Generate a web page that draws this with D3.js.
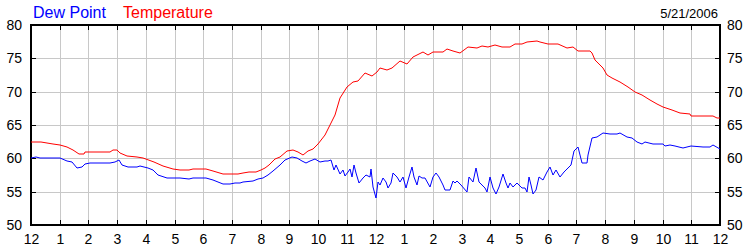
<!DOCTYPE html>
<html>
<head>
<meta charset="utf-8">
<script src="https://cdn.jsdelivr.net/npm/d3@7"></script>
<style>
  body { margin: 0; background: #fff; }
  svg { display: block; }
  text { font-family: "Liberation Sans", Arial, sans-serif; }
</style>
</head>
<body>
<div id="chart"></div>
<script>
// minutes after midnight, degrees F
const temperature = [
  [0, 62.4], [20, 62.4], [45, 62.2], [60, 62.0], [75, 61.7], [88, 61.25], [100, 60.7], [110, 60.65],
  [113, 60.9], [165, 60.9], [172, 61.2], [180, 61.2], [186, 60.8], [201, 60.35], [222, 60.25], [234, 60.1],
  [258, 59.5], [276, 58.9], [297, 58.35], [312, 58.3], [330, 58.25], [339, 58.4], [366, 58.4], [381, 58.15],
  [402, 57.65], [423, 57.65], [432, 57.7], [444, 57.85], [456, 58.0], [471, 58.0], [480, 58.25], [489, 58.5],
  [498, 59.0], [510, 59.85], [520, 60.25], [534, 61.15], [548, 61.25], [558, 60.9], [568, 60.5], [579, 61.1],
  [589, 61.35], [600, 62.1], [614, 63.5], [628, 65.25], [636, 66.5], [646, 69.0], [660, 70.65], [674, 71.5],
  [684, 71.65], [698, 72.75], [712, 72.35], [723, 73.0], [730, 73.5], [744, 73.25], [754, 73.6], [771, 74.6],
  [786, 74.1], [798, 75.25], [819, 76.0], [830, 75.5], [840, 75.9], [861, 76.0], [870, 76.4], [882, 76.1],
  [896, 75.75], [913, 76.65], [932, 76.5], [942, 76.85], [955, 76.65], [970, 76.95], [984, 76.65], [1001, 76.65],
  [1012, 77.1], [1026, 77.1], [1036, 77.4], [1057, 77.6], [1064, 77.5], [1080, 77.1], [1101, 77.1], [1120, 76.5],
  [1133, 76.65], [1143, 76.1], [1168, 76.1], [1172, 75.85], [1179, 74.75], [1189, 74.0], [1195, 73.5], [1204, 72.5],
  [1214, 72.0], [1231, 71.5], [1248, 70.75], [1262, 70.0], [1277, 69.5], [1294, 68.75], [1308, 68.15], [1320, 67.75],
  [1340, 67.25], [1356, 66.75], [1377, 66.6], [1380, 66.35], [1425, 66.35], [1434, 66.0], [1440, 66.0]
]

const dewPoint = [
  [0, 60.0], [10, 60.25], [18, 60.0], [30, 60.1], [60, 60.0], [75, 59.6], [86, 59.4], [96, 58.6],
  [107, 58.75], [113, 59.15], [123, 59.35], [165, 59.35], [176, 59.5], [184, 59.75], [190, 59.0], [203, 58.75],
  [222, 58.75], [228, 58.85], [245, 58.5], [255, 58.25], [265, 57.5], [284, 57.1], [312, 57.0], [330, 56.9],
  [339, 57.05], [366, 57.05], [381, 56.75], [402, 56.15], [416, 56.15], [426, 56.35], [437, 56.25], [444, 56.45],
  [465, 56.6], [474, 56.95], [485, 57.1], [495, 57.5], [506, 58.1], [520, 59.0], [531, 59.75], [546, 60.15],
  [556, 60.1], [566, 59.65], [575, 59.25], [583, 59.65], [594, 59.95], [604, 59.5], [614, 59.6], [621, 59.65],
  [628, 59.75], [633, 58.25], [638, 59.0], [646, 57.65], [652, 58.25], [656, 57.35], [662, 58.0], [666, 58.35],
  [670, 57.25], [675, 59.0], [679, 57.75], [686, 56.25], [694, 57.1], [700, 57.5], [708, 57.25], [710, 58.35],
  [714, 55.75], [720, 54.0], [725, 56.5], [729, 56.0], [735, 57.0], [742, 56.5], [746, 55.5], [752, 56.25],
  [756, 57.85], [764, 57.25], [771, 56.5], [778, 57.25], [784, 55.5], [790, 57.25], [796, 58.65], [800, 57.25],
  [806, 56.0], [811, 57.35], [817, 57.0], [823, 57.0], [834, 55.75], [840, 57.25], [846, 57.85], [853, 57.25],
  [861, 56.0], [865, 55.25], [876, 55.25], [882, 56.65], [886, 56.25], [890, 56.65], [899, 56.0], [911, 54.9],
  [916, 57.25], [924, 56.5], [930, 58.5], [936, 56.5], [948, 55.5], [953, 54.9], [960, 57.25], [965, 55.5],
  [972, 54.65], [978, 55.75], [986, 57.65], [992, 56.25], [996, 55.5], [1002, 56.25], [1008, 55.75], [1015, 56.35],
  [1026, 55.5], [1032, 55.5], [1036, 54.9], [1040, 57.25], [1044, 56.0], [1050, 54.65], [1056, 55.25], [1062, 57.25],
  [1070, 56.75], [1078, 58.0], [1084, 58.75], [1090, 57.5], [1097, 58.25], [1106, 57.25], [1114, 58.0], [1122, 58.6],
  [1128, 59.0], [1134, 61.15], [1143, 61.65], [1151, 59.25], [1162, 59.25], [1164, 60.5], [1172, 63.0], [1182, 63.25],
  [1196, 63.75], [1210, 63.65], [1224, 63.65], [1231, 63.75], [1246, 63.15], [1256, 63.0], [1266, 62.5], [1277, 62.2],
  [1284, 62.4], [1301, 62.2], [1320, 62.2], [1325, 61.9], [1336, 62.05], [1346, 61.9], [1362, 61.55], [1371, 61.7],
  [1380, 61.8], [1404, 61.7], [1419, 61.7], [1426, 62.05], [1440, 61.4]
]

const yTicks = [50, 55, 60, 65, 70, 75, 80]
const dateLabel = '5/21/2006'
const seriesNames = ['Dew Point', 'Temperature']
const seriesColors = ['#0000ff', '#ff0000']

var width = 750
var height = 250
var margin = {top: 25, right: 30, bottom: 25, left: 31}

var day = new Date(2006, 4, 21)
var toDate = m => d3.timeMinute.offset(day, m)

var svg = d3.select('#chart')
    .append('svg')
    .attr('width', width)
    .attr('height', height)

var x = d3.scaleTime()
    .domain([day, d3.timeDay.offset(day, 1)])
    .rangeRound([margin.left, width - margin.right])
var y = d3.scaleLinear()
    .domain([50, 80])
    .rangeRound([height - margin.bottom, margin.top])

var hours = d3.timeHour.range(day, d3.timeDay.offset(day, 1), 1).slice(1)

// grid
svg.append('g')
    .attr('stroke', '#c8c8c8')
    .selectAll('line')
    .data(hours)
    .enter().append('line')
      .attr('x1', d => x(d) + 0.5)
      .attr('x2', d => x(d) + 0.5)
      .attr('y1', margin.top)
      .attr('y2', height - margin.bottom)

svg.append('g')
    .attr('stroke', '#c8c8c8')
    .selectAll('line')
    .data(yTicks.slice(1, -1))
    .enter().append('line')
      .attr('x1', margin.left)
      .attr('x2', width - margin.right)
      .attr('y1', d => y(d) + 0.5)
      .attr('y2', d => y(d) + 0.5)

var xAxis = d3.axisBottom(x)
    .ticks(d3.timeHour.every(1))
    .tickFormat(d3.timeFormat('%-I'))
    .tickSize(-5)
    .tickPadding(9)

var gx = svg.append('g')
    .attr('transform', `translate(0, ${height - margin.bottom})`)
    .call(xAxis)
svg.append('g')
    .attr('transform', `translate(0, ${margin.top})`)
    .call(d3.axisTop(x).ticks(d3.timeHour.every(1)).tickSize(-5).tickFormat(''))

svg.append('g')
    .attr('transform', `translate(${margin.left}, 0)`)
    .call(d3.axisLeft(y).tickValues(yTicks).tickSize(-5).tickPadding(9))
svg.append('g')
    .attr('transform', `translate(${width - margin.right}, 0)`)
    .call(d3.axisRight(y).tickValues(yTicks).tickSize(-5).tickPadding(7))

svg.selectAll('.domain').remove()
svg.selectAll('.tick line').attr('stroke', '#000')
svg.selectAll('.tick text')
    .attr('font-family', '"Liberation Sans", Arial, sans-serif')
    .attr('font-size', 14)
    .attr('fill', '#000')

// frame
svg.append('rect')
    .attr('x', margin.left)
    .attr('y', margin.top)
    .attr('width', width - margin.left - margin.right)
    .attr('height', height - margin.top - margin.bottom)
    .attr('fill', 'none')
    .attr('stroke', '#000')
    .attr('stroke-width', 2)

var line = d3.line()
    .x(d => x(toDate(d[0])))
    .y(d => y(d[1]))

svg.append('path')
    .datum(dewPoint)
    .attr('fill', 'none')
    .attr('stroke', seriesColors[0])
    .attr('stroke-width', 1)
    .attr('d', line)

svg.append('path')
    .datum(temperature)
    .attr('fill', 'none')
    .attr('stroke', seriesColors[1])
    .attr('stroke-width', 1)
    .attr('d', line)

// legend
svg.append('text')
    .attr('x', 33)
    .attr('y', 18)
    .attr('font-size', 16)
    .attr('fill', seriesColors[0])
    .text(seriesNames[0])
svg.append('text')
    .attr('x', 123)
    .attr('y', 18)
    .attr('font-size', 16)
    .attr('fill', seriesColors[1])
    .text(seriesNames[1])

svg.append('text')
    .attr('x', 718)
    .attr('y', 18)
    .attr('font-size', 13)
    .attr('text-anchor', 'end')
    .attr('fill', '#000')
    .text(dateLabel)
</script>
</body>
</html>
